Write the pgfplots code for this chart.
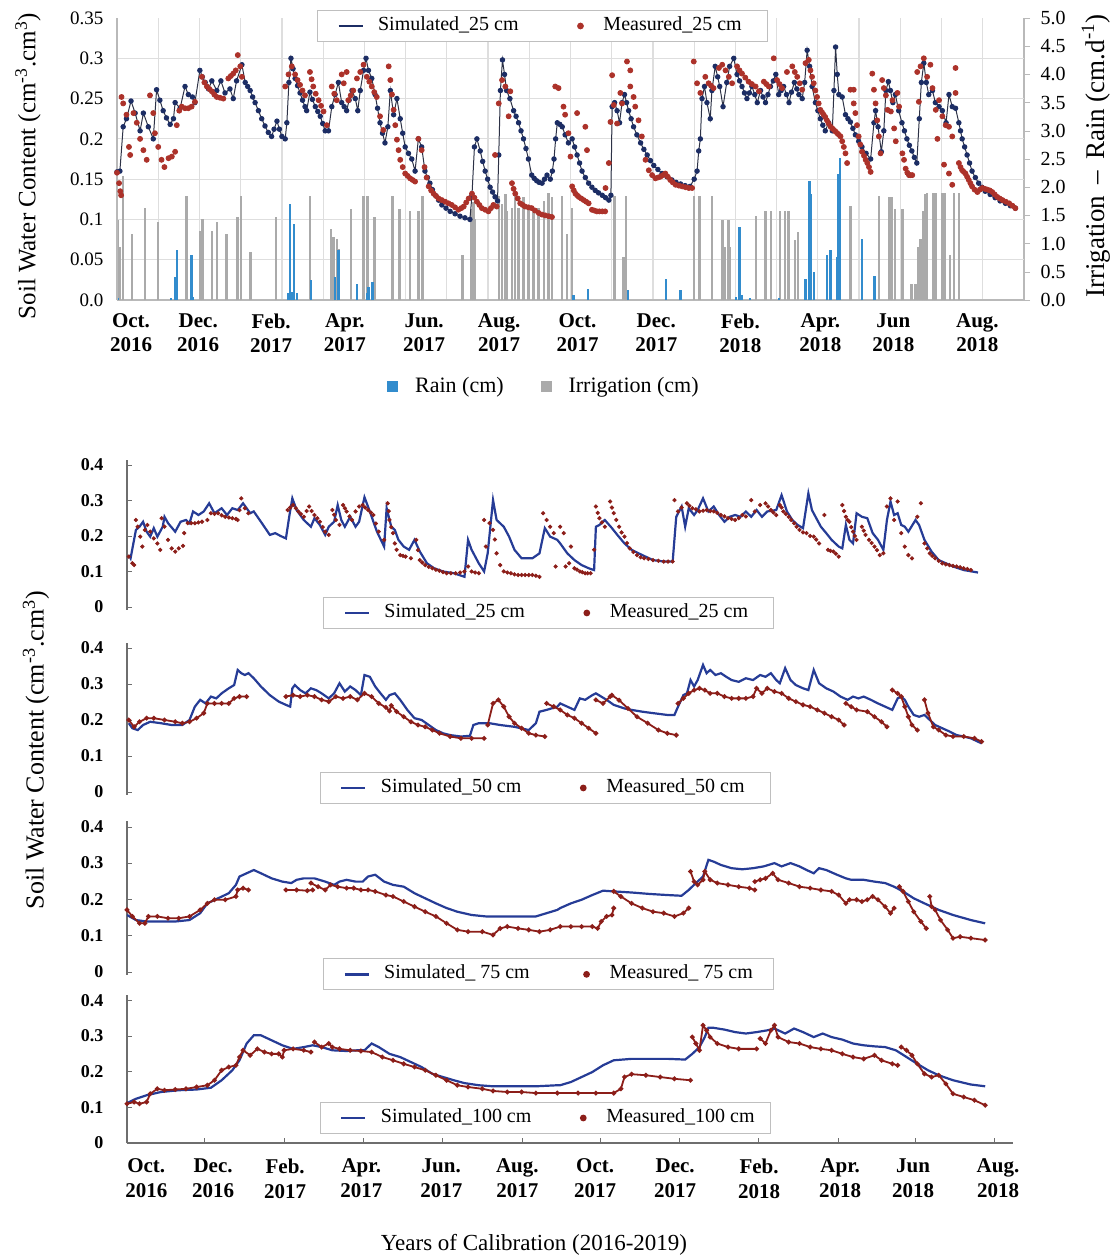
\documentclass[border=0pt]{standalone}
\usepackage{fontspec}
\setmainfont{Liberation Serif}
\usepackage{pgfplots}
\pgfplotsset{compat=1.18}
\definecolor{simnavy}{RGB}{28,45,100}
\definecolor{simline}{RGB}{45,50,70}
\definecolor{measred}{RGB}{172,50,42}
\definecolor{bsim}{RGB}{38,60,150}
\definecolor{bmeas}{RGB}{140,30,25}
\definecolor{rainblue}{RGB}{50,140,205}
\definecolor{irrgray}{RGB}{170,170,170}
\definecolor{gridc}{RGB}{222,222,222}
\definecolor{axc}{RGB}{185,185,185}
\definecolor{baxc}{RGB}{110,110,110}
\pgfplotsset{
 every axis/.append style={scale only axis, /pgf/number format/assume math mode=true},
 mylegend/.style={legend columns=2, legend cell align=left,
   legend style={draw=black!25, fill=white, line width=0.5pt, inner xsep=10pt, inner ysep=3pt,
     font=\fontsize{10}{12}\selectfont, nodes={inner sep=0pt, text height=7pt, text depth=2.5pt},
     /tikz/every odd column/.append style={column sep=7pt},
     /tikz/every even column/.append style={column sep=26.5pt}}},
 simimg/.style={legend image code/.code={\draw[#1,line width=1.4pt] (0pt,0pt)--(12pt,0pt);}},
 measimg/.style={legend image code/.code={\path[draw=none] (-1.7pt,0pt)--(4.5pt,0pt); \fill[#1,draw=none] (0pt,0pt) circle (1.7pt);}},
 bpanel/.style={width=443pt, xmin=355, xmax=2836, axis y line*=left,
   axis line style={baxc, line width=0.6pt},
   ytick={0,0.1,0.2,0.3,0.4}, yticklabels={0,0.1,0.2,0.3,0.4},
   tick align=inside, major tick length=2.5pt, tick style={baxc},
   y tick label style={font=\bfseries\fontsize{9}{10}\selectfont, xshift=-8.3pt},
   unbounded coords=jump, mylegend},
 bsimstyle/.style={bsim, line width=1.1pt, simimg=bsim},
 bmeasstyle/.style={bmeas, line width=0.9pt, mark=*, mark size=0.7pt, measimg=bmeas},
}
\begin{document}
\begin{tikzpicture}
\path[use as bounding box] (0pt,0pt) rectangle (560pt,-630pt);

% ---------- TOP: bars + right axis ----------
\begin{axis}[
  at={(58.5pt,-150pt)}, anchor=south west, width=453.5pt, height=141pt,
  xmin=0, xmax=22, ymin=0, ymax=5,
  axis y line*=right, axis x line*=bottom,
  axis line style={axc, line width=0.6pt},
  xtick={0.34,1.97,3.74,5.53,7.45,9.27,11.17,13.08,15.12,17.06,18.83,20.87},
  xticklabels={Oct.\\2016,Dec.\\2016,Feb.\\2017,Apr.\\2017,Jun.\\2017,Aug.\\2017,Oct.\\2017,Dec.\\2017,Feb.\\2018,Apr.\\2018,Jun\\2018,Aug.\\2018},
  x tick label style={align=center, font=\bfseries\fontsize{10.5}{12}\selectfont, yshift=-0.3pt},
  major x tick style={draw=none},
  minor xtick={1,2,...,21}, xminorgrids=true, minor grid style={gridc, line width=0.6pt}, minor x tick style={draw=none},
  ytick={0,0.5,1,1.5,2,2.5,3,3.5,4,4.5,5},
  yticklabels={0.0,0.5,1.0,1.5,2.0,2.5,3.0,3.5,4.0,4.5,5.0},
  y tick label style={font=\fontsize{10}{11}\selectfont, xshift=1.8pt},
  tick align=outside, major tick length=3pt, y tick style={axc},
  extra y ticks={0.714,1.429,2.143,2.857,3.571,4.286},
  extra y tick labels={},
  extra y tick style={grid=major, major grid style={gridc, line width=0.6pt}, major tick length=0pt},
  legend columns=2, legend cell align=left,
  legend style={at={(0.4697,-0.305)}, anchor=center, draw=none, fill=none,
    font=\fontsize{11}{12}\selectfont, nodes={inner sep=0pt},
    /tikz/every odd column/.append style={column sep=8.5pt},
    /tikz/every even column/.append style={column sep=18.5pt}},
]
\addlegendimage{legend image code/.code={\fill[rainblue] (0pt,-2.5pt) rectangle (5pt,2.5pt);}}
\addlegendentry{Rain (cm)}
\addlegendimage{legend image code/.code={\fill[irrgray] (0pt,-2.5pt) rectangle (5pt,2.5pt);}}
\addlegendentry{Irrigation (cm)}
\addplot[ycomb, irrgray, line width=1.2pt, forget plot] coordinates {
(0.01,1.41) (0.07,0.94) (0.14,2.2) (0.36,1.17) (0.68,1.64) (0.99,1.38) (1.69,1.85) (2.01,1.23) (2.07,1.44) (2.30,1.23) (2.42,1.38) (2.66,1.17) (2.92,1.47) (3.01,1.85) (3.24,0.85) (3.86,1.47) (4.68,1.85) (5.19,1.26) (5.25,1.11) (5.33,1.08) (5.37,0.91) (5.68,1.61) (5.98,1.85) (6.08,1.85) (6.25,1.47) (6.68,1.85) (6.85,1.61) (7.11,1.58) (7.31,1.58) (7.41,1.85) (8.38,0.79) (8.59,1.61) (8.65,1.73) (8.69,1.44) (9.26,1.85) (9.34,1.70) (9.42,1.88) (9.46,1.58) (9.58,1.64) (9.66,1.85) (9.74,1.64) (9.86,1.82) (9.98,1.61) (10.10,1.64) (10.22,1.64) (10.35,1.76) (10.47,1.90) (10.55,1.82) (10.79,1.85) (10.91,1.17) (11.03,1.64) (12.07,1.85) (12.29,0.76) (12.35,1.85) (14.0,1.85) (14.13,1.85) (14.43,1.85) (14.69,1.41) (14.74,0.94) (14.83,1.41) (14.86,0.94) (15.5,1.49) (15.73,1.58) (15.87,1.58) (16.08,1.58) (16.21,1.58) (16.29,1.58) (16.45,1.06) (16.52,1.2) (17.79,1.67) (18.48,1.85) (18.74,1.82) (18.80,1.82) (18.87,1.61) (19.05,1.61) (19.27,0.29) (19.37,0.29) (19.43,0.94) (19.49,1.08) (19.55,1.58) (19.60,1.88) (19.65,1.90) (19.80,1.90) (19.85,1.90) (20.02,1.90) (20.08,1.90) (20.20,0.79) (20.30,1.90) (20.42,1.90)
};
\addplot[ycomb, rainblue, line width=1.2pt, forget plot] coordinates {
(0.03,0.03) (1.31,0.03) (1.41,0.41) (1.45,0.88) (1.81,0.79) (1.85,0.06) (4.16,0.12) (4.20,1.70) (4.24,0.15) (4.30,1.35) (4.36,0.12) (4.71,0.35) (5.29,0.41) (5.37,0.88) (5.82,0.29) (6.06,0.12) (6.10,0.23) (6.20,0.32) (11.07,0.09) (11.42,0.20) (12.39,0.18) (13.32,0.38) (13.67,0.18) (15.02,0.06) (15.10,1.29) (15.15,0.09) (15.36,0.03) (16.05,0.03) (16.70,0.38) (16.80,2.11) (16.84,1.88) (16.90,0.50) (17.22,0.79) (17.31,0.88) (17.47,0.76) (17.49,2.23) (17.53,2.52) (18.07,1.08) (18.37,0.42)
};
\end{axis}

% ---------- TOP: soil water (left axis) ----------
\begin{axis}[
  at={(58.5pt,-150pt)}, anchor=south west, width=453.5pt, height=141pt,
  xmin=0, xmax=22, ymin=0, ymax=0.35,
  axis x line=none, axis y line*=left,
  axis line style={axc, line width=0.6pt},
  ytick={0,0.05,0.1,0.15,0.2,0.25,0.3,0.35},
  yticklabels={0.0,0.05,0.1,0.15,0.2,0.25,0.3,0.35},
  major tick length=0pt,
  y tick label style={font=\fontsize{9.5}{10}\selectfont, xshift=-3.3pt},
  mylegend, legend style={at={(0.469,0.9716)}, anchor=center},
]
\addplot[simline, line width=0.5pt, mark=*, mark size=1.1pt, mark options={fill=simnavy, draw=simnavy}, simimg=simnavy] coordinates {
(0,0.159) (0.07,0.160) (0.15,0.215) (0.23,0.225) (0.34,0.247) (0.44,0.232) (0.56,0.210) (0.64,0.232) (0.76,0.215) (0.88,0.200) (0.96,0.261) (1.04,0.248) (1.12,0.235) (1.20,0.226) (1.29,0.218) (1.37,0.225) (1.41,0.245) (1.53,0.238) (1.65,0.265) (1.73,0.255) (1.83,0.252) (1.89,0.245) (2.01,0.285) (2.07,0.277) (2.14,0.270) (2.22,0.262) (2.30,0.272) (2.42,0.260) (2.52,0.272) (2.62,0.257) (2.74,0.262) (2.82,0.250) (2.90,0.272) (3.03,0.292) (3.11,0.270) (3.17,0.265) (3.23,0.260) (3.29,0.252) (3.35,0.245) (3.43,0.235) (3.51,0.225) (3.59,0.216) (3.67,0.208) (3.75,0.203) (3.81,0.212) (3.88,0.222) (3.94,0.212) (4.00,0.203) (4.08,0.200) (4.12,0.220) (4.17,0.270) (4.22,0.300) (4.27,0.287) (4.32,0.275) (4.38,0.266) (4.44,0.257) (4.50,0.248) (4.56,0.240) (4.60,0.235) (4.68,0.258) (4.74,0.249) (4.81,0.240) (4.87,0.234) (4.93,0.228) (4.99,0.219) (5.05,0.210) (5.13,0.210) (5.21,0.240) (5.29,0.255) (5.37,0.270) (5.45,0.245) (5.51,0.240) (5.57,0.235) (5.63,0.248) (5.70,0.260) (5.78,0.250) (5.84,0.235) (5.90,0.260) (5.98,0.285) (6.04,0.300) (6.10,0.285) (6.18,0.275) (6.26,0.255) (6.32,0.238) (6.38,0.220) (6.44,0.207) (6.50,0.195) (6.57,0.215) (6.63,0.260) (6.71,0.230) (6.79,0.250) (6.87,0.225) (6.93,0.207) (6.99,0.190) (7.07,0.182) (7.15,0.175) (7.23,0.160) (7.31,0.200) (7.39,0.190) (7.47,0.160) (7.53,0.152) (7.59,0.145) (7.65,0.137) (7.72,0.130) (7.80,0.124) (7.88,0.118) (7.98,0.114) (8.08,0.110) (8.20,0.107) (8.32,0.104) (8.44,0.102) (8.56,0.100) (8.61,0.130) (8.67,0.190) (8.73,0.200) (8.81,0.185) (8.87,0.172) (8.93,0.160) (8.99,0.150) (9.05,0.140) (9.11,0.134) (9.17,0.128) (9.23,0.123) (9.26,0.180) (9.30,0.260) (9.35,0.298) (9.40,0.280) (9.45,0.260) (9.53,0.250) (9.62,0.235) (9.68,0.228) (9.74,0.220) (9.80,0.210) (9.86,0.200) (9.92,0.188) (9.98,0.175) (10.06,0.155) (10.12,0.151) (10.18,0.148) (10.24,0.146) (10.31,0.145) (10.37,0.150) (10.43,0.155) (10.51,0.150) (10.56,0.160) (10.60,0.175) (10.64,0.200) (10.68,0.220) (10.74,0.218) (10.80,0.215) (10.87,0.205) (10.95,0.195) (11.04,0.200) (11.10,0.190) (11.16,0.180) (11.22,0.170) (11.28,0.160) (11.36,0.152) (11.44,0.145) (11.52,0.140) (11.60,0.136) (11.68,0.133) (11.77,0.130) (11.85,0.127) (11.93,0.124) (11.98,0.130) (12.01,0.240) (12.07,0.245) (12.13,0.235) (12.19,0.220) (12.25,0.245) (12.31,0.255) (12.36,0.245) (12.41,0.235) (12.47,0.225) (12.53,0.215) (12.61,0.205) (12.70,0.195) (12.78,0.187) (12.86,0.180) (12.94,0.173) (13.02,0.167) (13.12,0.162) (13.22,0.157) (13.34,0.153) (13.46,0.149) (13.56,0.146) (13.67,0.144) (13.78,0.142) (13.90,0.141) (14.00,0.150) (14.07,0.160) (14.11,0.185) (14.15,0.200) (14.19,0.250) (14.25,0.265) (14.31,0.245) (14.39,0.225) (14.43,0.260) (14.51,0.290) (14.57,0.277) (14.62,0.265) (14.70,0.240) (14.79,0.270) (14.86,0.290) (14.96,0.300) (15.04,0.280) (15.10,0.272) (15.16,0.265) (15.22,0.257) (15.28,0.250) (15.34,0.257) (15.40,0.265) (15.47,0.255) (15.53,0.245) (15.61,0.260) (15.67,0.252) (15.73,0.245) (15.79,0.255) (15.85,0.265) (15.92,0.272) (15.98,0.280) (16.05,0.255) (16.11,0.260) (16.17,0.265) (16.24,0.255) (16.30,0.245) (16.36,0.258) (16.43,0.270) (16.49,0.262) (16.54,0.255) (16.62,0.250) (16.68,0.270) (16.74,0.310) (16.80,0.290) (16.86,0.265) (16.94,0.245) (17.00,0.235) (17.06,0.225) (17.12,0.217) (17.18,0.210) (17.26,0.220) (17.35,0.210) (17.39,0.260) (17.43,0.314) (17.47,0.280) (17.51,0.255) (17.59,0.252) (17.67,0.230) (17.73,0.225) (17.79,0.221) (17.85,0.213) (17.91,0.205) (17.99,0.197) (18.07,0.190) (18.17,0.182) (18.28,0.175) (18.36,0.220) (18.40,0.235) (18.46,0.215) (18.54,0.184) (18.60,0.210) (18.65,0.260) (18.71,0.271) (18.76,0.260) (18.82,0.245) (18.88,0.255) (18.96,0.235) (19.04,0.220) (19.10,0.210) (19.16,0.200) (19.22,0.192) (19.28,0.185) (19.34,0.177) (19.40,0.170) (19.46,0.225) (19.51,0.270) (19.57,0.294) (19.63,0.270) (19.69,0.255) (19.78,0.260) (19.85,0.245) (19.94,0.240) (20.02,0.235) (20.11,0.220) (20.18,0.255) (20.26,0.240) (20.34,0.238) (20.42,0.220) (20.46,0.210) (20.50,0.200) (20.56,0.190) (20.62,0.180) (20.68,0.170) (20.74,0.160) (20.82,0.152) (20.90,0.145) (20.98,0.140) (21.06,0.135) (21.18,0.131) (21.30,0.127) (21.42,0.123) (21.55,0.120) (21.67,0.117) (21.79,0.114)
};
\addlegendentry{\makebox[73pt][l]{Simulated\_25 cm}}
\addplot[only marks, mark=*, mark size=1.25pt, mark options={fill=measred, draw=measred}, measimg=measred] coordinates {
(0,0.158) (0.05,0.145) (0.08,0.135) (0.10,0.130) (0.11,0.252) (0.15,0.244) (0.23,0.230) (0.29,0.190) (0.32,0.180) (0.40,0.232) (0.48,0.220) (0.56,0.200) (0.64,0.186) (0.72,0.174) (0.80,0.254) (0.88,0.232) (0.92,0.207) (1.00,0.190) (1.08,0.174) (1.15,0.165) (1.25,0.176) (1.33,0.178) (1.41,0.184) (1.45,0.217) (1.51,0.235) (1.57,0.240) (1.65,0.238) (1.73,0.238) (1.81,0.240) (1.89,0.246) (2.06,0.277) (2.12,0.270) (2.18,0.265) (2.24,0.262) (2.30,0.259) (2.36,0.255) (2.42,0.252) (2.50,0.251) (2.58,0.250) (2.70,0.275) (2.76,0.278) (2.82,0.281) (2.88,0.285) (2.93,0.304) (2.99,0.290) (3.03,0.277)
(4.08,0.265) (4.16,0.280) (4.24,0.290) (4.32,0.280) (4.38,0.273) (4.44,0.267) (4.50,0.260) (4.56,0.254) (4.68,0.283) (4.72,0.274) (4.76,0.265) (4.82,0.256) (4.89,0.248) (4.95,0.241) (5.01,0.234) (5.09,0.217) (5.21,0.265) (5.27,0.256) (5.33,0.248) (5.45,0.280) (5.50,0.269) (5.57,0.283) (5.61,0.248) (5.67,0.254) (5.73,0.260) (5.82,0.275) (5.90,0.283) (5.98,0.292) (6.06,0.277) (6.12,0.271) (6.18,0.265) (6.24,0.258) (6.30,0.252) (6.38,0.228) (6.46,0.211) (6.59,0.290) (6.63,0.273) (6.67,0.255) (6.71,0.236) (6.75,0.217) (6.79,0.199) (6.83,0.186) (6.87,0.174) (6.93,0.165) (6.99,0.157) (7.05,0.154) (7.11,0.151) (7.17,0.149) (7.23,0.147) (7.31,0.200) (7.39,0.186) (7.46,0.165) (7.51,0.152) (7.56,0.141) (7.62,0.136) (7.68,0.132) (7.74,0.129) (7.80,0.126) (7.88,0.124) (7.96,0.122) (8.04,0.120) (8.12,0.118) (8.20,0.115) (8.28,0.112) (8.35,0.114) (8.41,0.116) (8.47,0.121) (8.53,0.126) (8.61,0.132) (8.67,0.127) (8.73,0.122) (8.79,0.118) (8.85,0.114) (8.93,0.112) (9.01,0.110) (9.07,0.114) (9.13,0.118) (9.21,0.116) (9.17,0.180) (9.26,0.244) (9.34,0.273) (9.42,0.265) (9.50,0.228) (9.54,0.259) (9.58,0.145) (9.62,0.138) (9.66,0.132) (9.72,0.126) (9.78,0.120) (9.84,0.118) (9.90,0.116) (9.98,0.115) (10.06,0.114) (10.14,0.111) (10.23,0.108) (10.31,0.106) (10.39,0.105) (10.47,0.104) (10.55,0.103) (10.63,0.265) (10.71,0.263) (10.83,0.240) (10.95,0.207) (10.87,0.230) (11.00,0.178) (11.04,0.141) (11.08,0.136) (11.12,0.132) (11.16,0.130) (11.20,0.128) (11.26,0.126) (11.32,0.124) (11.38,0.122) (11.44,0.120) (11.52,0.112) (11.58,0.111) (11.64,0.110) (11.70,0.110) (11.77,0.110) (11.84,0.110) (11.16,0.232) (11.36,0.215) (11.40,0.186) (11.85,0.139) (11.93,0.170)
(11.97,0.221) (12.05,0.242) (12.13,0.219) (12.01,0.279) (12.21,0.257) (12.25,0.244) (12.37,0.296) (12.45,0.285) (12.45,0.265) (12.53,0.252) (12.57,0.240) (12.65,0.223) (12.73,0.203) (12.82,0.174) (12.90,0.161) (12.98,0.155) (13.06,0.151) (13.12,0.152) (13.18,0.153) (13.24,0.155) (13.30,0.157) (13.36,0.153) (13.42,0.149) (13.48,0.146) (13.55,0.143) (13.63,0.142) (13.71,0.141) (13.79,0.140) (13.87,0.139) (13.95,0.139) (13.99,0.296) (14.07,0.269) (14.15,0.257) (14.27,0.277) (14.35,0.269) (14.41,0.266) (14.47,0.263) (14.60,0.288) (14.68,0.292) (14.76,0.285) (14.84,0.277) (14.92,0.269) (15.04,0.290) (15.10,0.285) (15.16,0.281) (15.24,0.276) (15.32,0.271) (15.40,0.268) (15.49,0.265) (15.57,0.259) (15.69,0.271) (15.75,0.268) (15.81,0.265) (15.93,0.300) (16.01,0.273) (16.07,0.268) (16.13,0.263) (16.25,0.283) (16.38,0.290) (16.44,0.283) (16.50,0.277) (16.56,0.269) (16.62,0.261) (16.70,0.294) (16.78,0.298) (16.82,0.285) (16.86,0.277) (16.90,0.269) (16.94,0.260) (16.98,0.252) (17.02,0.244) (17.06,0.236) (17.10,0.233) (17.14,0.230) (17.18,0.227) (17.22,0.223) (17.26,0.219) (17.31,0.215) (17.35,0.213) (17.39,0.211) (17.43,0.209) (17.47,0.207) (17.51,0.205) (17.55,0.203) (17.59,0.197) (17.63,0.190) (17.67,0.182) (17.71,0.170) (17.79,0.261) (17.87,0.261) (17.87,0.244) (17.91,0.232) (17.95,0.217) (17.99,0.203) (18.03,0.193) (18.07,0.184) (18.12,0.179) (18.16,0.174) (18.20,0.170) (18.24,0.165) (18.28,0.159) (18.32,0.281) (18.36,0.261) (18.40,0.244) (18.44,0.223) (18.48,0.203) (18.52,0.182) (18.56,0.273) (18.60,0.263) (18.65,0.254) (18.69,0.236) (18.77,0.234) (18.81,0.248) (18.85,0.213) (18.89,0.197) (18.93,0.257) (18.97,0.240) (19.05,0.182) (19.09,0.174) (19.13,0.163) (19.17,0.158) (19.21,0.155) (19.25,0.155) (19.29,0.155) (19.41,0.283) (19.45,0.246) (19.49,0.290) (19.57,0.300) (19.65,0.277) (19.73,0.292) (19.78,0.263) (19.86,0.236) (19.90,0.200) (19.94,0.248) (20.02,0.228) (20.06,0.168) (20.10,0.217) (20.18,0.215) (20.18,0.157) (20.26,0.203) (20.26,0.143) (20.34,0.288) (20.34,0.257) (20.42,0.170) (20.46,0.165) (20.50,0.161) (20.54,0.159) (20.58,0.157) (20.62,0.153) (20.66,0.149) (20.70,0.145) (20.74,0.141) (20.80,0.137) (20.87,0.134) (20.93,0.137) (20.99,0.139) (21.05,0.138) (21.11,0.137) (21.17,0.136) (21.23,0.134) (21.29,0.131) (21.35,0.128) (21.41,0.126) (21.48,0.124) (21.56,0.122) (21.64,0.120) (21.72,0.117) (21.79,0.114)
};
\addlegendentry{\makebox[72pt][l]{Measured\_25 cm}}
\end{axis}

% ---------- PANEL 1 (25 cm) ----------
\begin{axis}[bpanel, at={(63.5pt,-304.9pt)}, anchor=south west, height=75.1pt,
  ymin=-0.008, ymax=0.415, axis x line=none,
  legend style={at={(0.476,-0.021)}, anchor=center}]
\addplot[bsimstyle] coordinates {
(360,0.146) (365,0.137) (380,0.217) (390,0.226) (400,0.24) (410,0.212) (420,0.198) (430,0.222) (440,0.198) (455,0.226) (460,0.254) (470,0.236) (490,0.212) (505,0.24) (520,0.245) (530,0.236) (540,0.269) (555,0.259) (570,0.269) (585,0.292) (600,0.264) (620,0.278) (635,0.259) (650,0.278) (665,0.273) (680,0.292) (700,0.264) (710,0.269) (730,0.24) (755,0.203) (770,0.208) (785,0.2) (800,0.193) (810,0.259) (818,0.306) (830,0.273) (850,0.245) (870,0.226) (880,0.25) (895,0.231) (910,0.203) (920,0.226) (935,0.24) (945,0.287) (955,0.245) (965,0.226) (980,0.254) (995,0.226) (1005,0.24) (1020,0.309) (1035,0.269) (1045,0.24) (1055,0.212) (1075,0.17) (1082,0.278) (1095,0.226) (1105,0.217) (1115,0.189) (1130,0.17) (1145,0.161) (1160,0.189) (1175,0.156) (1195,0.123) (1215,0.109) (1240,0.1) (1270,0.095) (1300,0.085) (1310,0.189) (1320,0.161) (1340,0.123) (1355,0.1) (1365,0.151) (1380,0.301) (1390,0.245) (1410,0.226) (1425,0.198) (1440,0.161) (1460,0.137) (1490,0.137) (1510,0.151) (1525,0.222) (1540,0.198) (1560,0.189)
(1568,0.179) (1588,0.151) (1608,0.132) (1628,0.118) (1648,0.109) (1663,0.104) (1668,0.226) (1678,0.231) (1693,0.245) (1713,0.222) (1728,0.203) (1748,0.179) (1768,0.161) (1798,0.146) (1828,0.132) (1858,0.128) (1883,0.128) (1893,0.254) (1908,0.283) (1918,0.226) (1928,0.278) (1943,0.259) (1953,0.273) (1968,0.306) (1983,0.269) (1998,0.283) (2013,0.259) (2028,0.24) (2043,0.254) (2058,0.259) (2073,0.254) (2088,0.269) (2103,0.254) (2118,0.273) (2133,0.254) (2148,0.269) (2173,0.273) (2188,0.315) (2203,0.269) (2218,0.245) (2233,0.231) (2248,0.222) (2263,0.32) (2273,0.273) (2283,0.254) (2298,0.226) (2313,0.208) (2328,0.189) (2348,0.17) (2358,0.165) (2368,0.231) (2378,0.189) (2388,0.179) (2398,0.264) (2413,0.254) (2428,0.25) (2443,0.208) (2458,0.189) (2473,0.161) (2483,0.245) (2493,0.297) (2503,0.259) (2513,0.264) (2523,0.231) (2533,0.226) (2543,0.212) (2563,0.245) (2573,0.231) (2588,0.189) (2608,0.156) (2628,0.132) (2648,0.123) (2668,0.114) (2698,0.104) (2738,0.097)
};
\addlegendentry{\makebox[73pt][l]{Simulated\_25 cm}}
\addplot[only marks, bmeas, mark=*, mark size=0.85pt, measimg=bmeas] coordinates {
(360,0.142) (370,0.123) (375,0.118) (380,0.245) (385,0.226) (392,0.198) (398,0.17) (405,0.217) (412,0.231) (420,0.212) (430,0.193) (440,0.179) (448,0.161) (452,0.25) (460,0.226) (470,0.189) (480,0.165) (490,0.156) (500,0.165) (512,0.172) (515,0.208) (525,0.236) (535,0.236) (545,0.236) (555,0.238) (565,0.24) (580,0.245) (590,0.264) (600,0.262) (610,0.264) (620,0.258) (630,0.254) (640,0.252) (650,0.25) (660,0.248) (665,0.245) (670,0.273) (675,0.306) (685,0.278) (695,0.264)
(805,0.273) (812,0.28) (820,0.287) (828,0.278) (835,0.269) (842,0.262) (850,0.254) (858,0.27) (865,0.283) (872,0.27) (880,0.259) (888,0.25) (895,0.24) (903,0.225) (910,0.212) (920,0.203) (930,0.273) (935,0.26) (940,0.245) (950,0.231) (960,0.287) (965,0.278) (970,0.269) (978,0.255) (985,0.245) (995,0.269) (1005,0.283) (1015,0.287) (1022,0.28) (1030,0.273) (1038,0.266) (1045,0.259) (1052,0.235) (1060,0.212) (1075,0.189) (1085,0.292) (1088,0.27) (1090,0.245) (1095,0.225) (1100,0.208) (1105,0.179) (1110,0.161) (1120,0.146) (1128,0.144) (1135,0.142) (1150,0.137) (1165,0.189) (1170,0.16) (1175,0.132) (1182,0.125) (1190,0.118) (1200,0.113) (1210,0.109) (1220,0.105) (1230,0.102) (1240,0.098) (1250,0.095) (1262,0.095) (1275,0.095) (1288,0.097) (1300,0.1) (1310,0.114) (1320,0.1) (1330,0.097) (1340,0.095) (1355,0.245) (1360,0.17) (1370,0.236) (1380,0.217) (1385,0.19) (1390,0.151) (1400,0.118) (1410,0.1) (1420,0.097) (1430,0.095) (1440,0.092) (1450,0.09) (1460,0.09) (1470,0.09) (1480,0.09) (1490,0.09) (1500,0.088) (1510,0.085) (1520,0.264) (1530,0.245) (1540,0.226) (1550,0.208) (1555,0.114)
(1568,0.226) (1578,0.208) (1583,0.114) (1593,0.123) (1598,0.17) (1608,0.109) (1615,0.105) (1623,0.1) (1630,0.098) (1638,0.095) (1645,0.095) (1653,0.095) (1663,0.161) (1668,0.283) (1673,0.265) (1678,0.25) (1685,0.238) (1693,0.226) (1708,0.297) (1713,0.28) (1718,0.264) (1725,0.245) (1733,0.226) (1740,0.21) (1748,0.198) (1755,0.18) (1763,0.165) (1773,0.155) (1783,0.146) (1793,0.14) (1803,0.137) (1815,0.135) (1828,0.132) (1843,0.13) (1858,0.128) (1870,0.128) (1883,0.128) (1888,0.301) (1898,0.269) (1908,0.28) (1923,0.292) (1930,0.285) (1938,0.278) (1948,0.275) (1958,0.269) (1968,0.271) (1978,0.273) (1988,0.27) (1998,0.269) (2008,0.265) (2018,0.259) (2028,0.255) (2038,0.25) (2048,0.248) (2058,0.245) (2068,0.25) (2078,0.259) (2088,0.255) (2103,0.301) (2113,0.269) (2128,0.287) (2143,0.292) (2150,0.283) (2158,0.273) (2165,0.266) (2173,0.259) (2183,0.287) (2188,0.28) (2193,0.269) (2200,0.262) (2208,0.254) (2215,0.245) (2223,0.236) (2230,0.226) (2238,0.217) (2248,0.21) (2258,0.208) (2268,0.2) (2278,0.198) (2285,0.19) (2293,0.179) (2308,0.259) (2318,0.161) (2325,0.158) (2333,0.156) (2340,0.15) (2348,0.142) (2358,0.287) (2363,0.27) (2368,0.254) (2373,0.245) (2378,0.24) (2383,0.225) (2388,0.212) (2393,0.2) (2398,0.189) (2413,0.226) (2418,0.215) (2423,0.203) (2433,0.189) (2440,0.18) (2448,0.17) (2455,0.16) (2463,0.146) (2473,0.151) (2483,0.283) (2493,0.306) (2503,0.245) (2513,0.297) (2523,0.208) (2533,0.17) (2543,0.146) (2553,0.137) (2568,0.254) (2578,0.292) (2588,0.179) (2596,0.165) (2603,0.151) (2610,0.144) (2618,0.137) (2628,0.13) (2638,0.123) (2648,0.12) (2658,0.118) (2668,0.116) (2678,0.114) (2688,0.112) (2698,0.109) (2708,0.107) (2718,0.104)
};
\addlegendentry{\makebox[72pt][l]{Measured\_25 cm}}
\end{axis}

% ---------- PANEL 2 (50 cm) ----------
\begin{axis}[bpanel, at={(63.5pt,-397.4pt)}, anchor=south west, height=76.1pt,
  ymin=-0.008, ymax=0.415, axis x line=none,
  legend style={at={(0.472,0.045)}, anchor=center}]
\addplot[bsimstyle] coordinates {
(360,0.191) (370,0.177) (385,0.172) (400,0.186) (420,0.195) (450,0.191) (480,0.186) (510,0.186) (530,0.2) (545,0.237) (560,0.256) (575,0.246) (590,0.265) (605,0.26) (620,0.274) (640,0.288) (655,0.297) (665,0.339) (675,0.33) (685,0.325) (695,0.33) (710,0.316) (730,0.293) (755,0.269) (780,0.251) (800,0.242) (812,0.237) (818,0.288) (825,0.297) (840,0.283) (855,0.274) (870,0.288) (885,0.283) (900,0.274) (920,0.26) (935,0.274) (950,0.302) (965,0.279) (980,0.293) (995,0.283) (1010,0.269) (1020,0.325) (1035,0.32) (1050,0.293) (1065,0.274) (1080,0.256) (1090,0.269) (1105,0.274) (1120,0.256) (1140,0.228) (1160,0.205) (1180,0.2) (1200,0.186) (1220,0.172) (1240,0.163) (1260,0.158) (1290,0.154) (1315,0.156) (1325,0.186) (1340,0.191) (1370,0.191) (1400,0.186) (1440,0.181) (1480,0.172) (1500,0.191) (1510,0.223) (1530,0.228) (1560,0.237)
(1568,0.246) (1588,0.237) (1608,0.228) (1623,0.26) (1638,0.256) (1658,0.269) (1668,0.274) (1683,0.265) (1698,0.256) (1718,0.242) (1748,0.232) (1768,0.228) (1798,0.223) (1828,0.219) (1868,0.214) (1888,0.214) (1898,0.237) (1913,0.269) (1923,0.274) (1933,0.311) (1943,0.293) (1953,0.311) (1968,0.353) (1978,0.33) (1988,0.339) (2003,0.325) (2018,0.33) (2033,0.32) (2048,0.311) (2068,0.306) (2088,0.316) (2108,0.311) (2128,0.325) (2143,0.32) (2158,0.33) (2173,0.311) (2183,0.302) (2198,0.344) (2213,0.311) (2228,0.297) (2248,0.288) (2263,0.283) (2278,0.339) (2293,0.302) (2313,0.288) (2333,0.279) (2353,0.265) (2373,0.256) (2388,0.265) (2403,0.26) (2418,0.265) (2438,0.256) (2458,0.246) (2478,0.237) (2498,0.228) (2513,0.26) (2523,0.265) (2533,0.256) (2543,0.237) (2558,0.214) (2573,0.209) (2588,0.214) (2603,0.2) (2618,0.186) (2638,0.177) (2658,0.168) (2678,0.158) (2698,0.154) (2718,0.149) (2748,0.135)
};
\addlegendentry{\makebox[73pt][l]{Simulated\_50 cm}}
\addplot[bmeasstyle] coordinates {
(360,0.2) (375,0.181) (390,0.195) (410,0.205) (430,0.205) (460,0.2) (490,0.195) (510,0.191) (530,0.195) (550,0.205) (570,0.219) (580,0.246) (600,0.246) (620,0.246) (640,0.246) (655,0.26) (670,0.265) (690,0.265) (690,nan)
(800,0.265) (820,0.269) (840,0.265) (860,0.269) (880,0.265) (900,0.256) (920,0.251) (940,0.265) (960,0.26) (980,0.265) (1000,0.256) (1020,0.274) (1040,0.265) (1060,0.246) (1080,0.235) (1090,0.225) (1095,0.24) (1110,0.223) (1130,0.209) (1150,0.195) (1170,0.186) (1190,0.181) (1210,0.172) (1230,0.163) (1260,0.154) (1290,0.149) (1320,0.149) (1355,0.149) (1355,nan)
(1365,0.186) (1380,0.246) (1395,0.256) (1410,0.237) (1425,0.209) (1440,0.191) (1460,0.177) (1480,0.163) (1500,0.158) (1525,0.154) (1525,nan)
(1530,0.246) (1550,0.237) (1568,0.228) (1588,0.214) (1608,0.205) (1628,0.191) (1648,0.177) (1668,0.163) (1668,nan)
(1668,0.256) (1688,0.246) (1708,0.265) (1713,0.269) (1733,0.255) (1758,0.232) (1783,0.209) (1813,0.191) (1843,0.172) (1868,0.163) (1893,0.158) (1893,nan)
(1898,0.246) (1913,0.26) (1928,0.274) (1943,0.283) (1958,0.288) (1973,0.283) (1988,0.274) (2008,0.274) (2028,0.265) (2048,0.26) (2068,0.26) (2088,0.26) (2108,0.265) (2118,0.288) (2133,0.274) (2148,0.288) (2168,0.279) (2188,0.274) (2208,0.26) (2228,0.251) (2248,0.242) (2268,0.237) (2288,0.228) (2308,0.219) (2328,0.209) (2348,0.2) (2363,0.186) (2363,nan)
(2368,0.246) (2383,0.237) (2398,0.228) (2428,0.223) (2448,0.209) (2468,0.195) (2483,0.181) (2483,nan)
(2498,0.283) (2513,0.274) (2523,0.265) (2533,0.237) (2543,0.209) (2553,0.186) (2568,0.172) (2568,nan)
(2588,0.256) (2598,0.219) (2613,0.181) (2628,0.172) (2648,0.158) (2668,0.154) (2698,0.154) (2728,0.149) (2748,0.14)
};
\addlegendentry{\makebox[72pt][l]{Measured\_50 cm}}
\end{axis}

% ---------- PANEL 3 (75 cm) ----------
\begin{axis}[bpanel, at={(63.5pt,-487.4pt)}, anchor=south west, height=76.7pt,
  ymin=-0.008, ymax=0.415, axis x line=none,
  legend style={at={(0.4757,0.003)}, anchor=center}]
\addplot[bsimstyle] coordinates {
(355,0.157) (380,0.143) (410,0.139) (450,0.139) (490,0.139) (530,0.143) (560,0.162) (580,0.189) (610,0.203) (640,0.217) (660,0.24) (670,0.263) (690,0.272) (710,0.281) (730,0.272) (760,0.258) (790,0.249) (815,0.245) (830,0.254) (850,0.258) (880,0.258) (910,0.249) (935,0.24) (950,0.249) (970,0.254) (995,0.249) (1015,0.249) (1030,0.263) (1050,0.268) (1075,0.249) (1100,0.24) (1130,0.235) (1160,0.217) (1190,0.203) (1220,0.189) (1250,0.176) (1280,0.166) (1320,0.157) (1360,0.153) (1400,0.153) (1440,0.153) (1500,0.153) (1530,0.162) (1560,0.171)
(1568,0.176) (1598,0.189) (1628,0.199) (1658,0.212) (1688,0.224) (1718,0.222) (1768,0.219) (1818,0.215) (1868,0.212) (1908,0.21) (1928,0.226) (1948,0.245) (1968,0.263) (1983,0.309) (1998,0.304) (2018,0.295) (2048,0.286) (2078,0.283) (2108,0.286) (2138,0.291) (2168,0.3) (2188,0.291) (2213,0.3) (2238,0.291) (2258,0.281) (2278,0.272) (2293,0.286) (2313,0.281) (2343,0.268) (2368,0.258) (2383,0.254) (2418,0.254) (2448,0.249) (2478,0.245) (2503,0.235) (2528,0.222) (2558,0.203) (2588,0.189) (2628,0.171) (2668,0.157) (2718,0.143) (2758,0.134)
};
\addlegendentry{\makebox[73pt][l]{Simulated\_ 75 cm}}
\addplot[bmeasstyle] coordinates {
(355,0.171) (370,0.153) (390,0.134) (405,0.134) (415,0.153) (440,0.153) (470,0.148) (500,0.148) (530,0.153) (560,0.171) (580,0.189) (600,0.199) (630,0.199) (660,0.208) (665,0.226) (680,0.231) (695,0.226) (695,nan)
(800,0.226) (830,0.226) (860,0.224) (875,0.226) (875,nan)
(870,0.245) (890,0.235) (910,0.226) (925,0.24) (945,0.235) (970,0.231) (990,0.231) (1010,0.226) (1030,0.226) (1050,0.222) (1080,0.212) (1100,0.208) (1130,0.194) (1160,0.18) (1190,0.166) (1220,0.153) (1250,0.134) (1280,0.116) (1310,0.111) (1350,0.111) (1380,0.102) (1400,0.12) (1420,0.125) (1450,0.12) (1480,0.116) (1510,0.111) (1540,0.116) (1568,0.125) (1598,0.125) (1628,0.125) (1658,0.125) (1673,0.12) (1683,0.139) (1698,0.153) (1713,0.157) (1718,0.176) (1718,nan)
(1718,0.222) (1738,0.208) (1768,0.189) (1798,0.176) (1828,0.166) (1858,0.162) (1888,0.153) (1913,0.162) (1928,0.176) (1928,nan)
(1933,0.277) (1943,0.249) (1953,0.24) (1968,0.254) (1973,0.277) (1988,0.254) (2008,0.245) (2038,0.24) (2068,0.235) (2098,0.231) (2113,0.226) (2113,nan)
(2113,0.249) (2128,0.254) (2143,0.258) (2163,0.272) (2178,0.254) (2208,0.245) (2238,0.235) (2268,0.231) (2298,0.226) (2328,0.222) (2348,0.212) (2368,0.189) (2378,0.199) (2398,0.199) (2413,0.194) (2428,0.199) (2443,0.208) (2458,0.199) (2478,0.18) (2493,0.162) (2503,0.176) (2503,nan)
(2518,0.235) (2528,0.222) (2543,0.194) (2558,0.166) (2578,0.139) (2593,0.12) (2593,nan)
(2603,0.208) (2608,0.18) (2618,0.171) (2633,0.143) (2653,0.116) (2668,0.093) (2688,0.097) (2718,0.093) (2758,0.088)
};
\addlegendentry{\makebox[72pt][l]{Measured\_ 75 cm}}
\end{axis}

% ---------- PANEL 4 (100 cm) ----------
\begin{axis}[bpanel, at={(63.5pt,-571.5pt)}, anchor=south west, height=74pt,
  ymin=0, ymax=0.415, axis x line*=bottom,
  xtick={355,572,795,1017,1238,1462,1681,1900,2123,2346,2563,2783}, xticklabels={},
  extra x ticks={409,596,798,1011,1235,1448,1666,1890,2125,2352,2556,2794},
  extra x tick labels={Oct.\\2016,Dec.\\2016,Feb.\\2017,Apr.\\2017,Jun.\\2017,Aug.\\2017,Oct.\\2017,Dec.\\2017,Feb.\\2018,Apr.\\2018,Jun\\2018,Aug.\\2018},
  extra x tick style={major tick length=0pt},
  x tick label style={align=center, font=\bfseries\fontsize{10.5}{12.5}\selectfont, yshift=-4.3pt},
  legend style={at={(0.472,0.169)}, anchor=center}]
\addplot[bsimstyle] coordinates {
(355,0.112) (380,0.124) (410,0.134) (450,0.143) (500,0.148) (550,0.15) (590,0.155) (620,0.176) (650,0.204) (670,0.232) (690,0.279) (710,0.302) (730,0.302) (760,0.288) (790,0.274) (820,0.264) (850,0.269) (875,0.274) (900,0.269) (930,0.26) (970,0.258) (1000,0.26) (1020,0.26) (1040,0.279) (1060,0.269) (1090,0.25) (1120,0.241) (1150,0.227) (1180,0.213) (1210,0.194) (1240,0.185) (1270,0.176) (1300,0.168) (1340,0.162) (1380,0.159) (1440,0.159) (1500,0.159) (1560,0.162)
(1568,0.162) (1598,0.171) (1628,0.185) (1658,0.199) (1688,0.218) (1718,0.232) (1768,0.236) (1818,0.236) (1868,0.236) (1918,0.234) (1938,0.25) (1958,0.269) (1973,0.297) (1983,0.323) (1998,0.323) (2028,0.318) (2058,0.311) (2088,0.307) (2118,0.311) (2148,0.316) (2168,0.321) (2198,0.307) (2223,0.321) (2248,0.311) (2278,0.297) (2303,0.307) (2328,0.297) (2358,0.29) (2388,0.279) (2418,0.274) (2448,0.271) (2478,0.269) (2508,0.26) (2538,0.241) (2568,0.222) (2598,0.204) (2628,0.19) (2668,0.176) (2718,0.164) (2758,0.159)
};
\addlegendentry{\makebox[73pt][l]{Simulated\_100 cm}}
\addplot[bmeasstyle] coordinates {
(355,0.11) (375,0.115) (390,0.11) (410,0.115) (420,0.138) (440,0.152) (460,0.148) (490,0.15) (520,0.152) (550,0.157) (580,0.162) (600,0.176) (620,0.204) (640,0.213) (660,0.218) (670,0.241) (680,0.26) (700,0.246) (720,0.264) (740,0.255) (760,0.25) (780,0.25) (790,0.241) (795,0.26) (820,0.264) (850,0.26) (870,0.255) (870,nan)
(880,0.283) (900,0.269) (920,0.279) (930,0.269) (950,0.264) (980,0.26) (1010,0.258) (1040,0.255) (1070,0.241) (1100,0.232) (1130,0.222) (1160,0.213) (1190,0.204) (1220,0.19) (1250,0.176) (1280,0.162) (1310,0.157) (1350,0.152) (1380,0.146) (1420,0.143) (1460,0.143) (1500,0.14) (1560,0.14) (1618,0.14) (1668,0.14) (1718,0.14) (1738,0.152) (1748,0.185) (1768,0.193) (1808,0.19) (1848,0.185) (1888,0.18) (1933,0.176) (1933,nan)
(1938,0.297) (1948,0.279) (1958,0.26) (1968,0.33) (1978,0.316) (1988,0.297) (2008,0.279) (2038,0.269) (2068,0.264) (2118,0.264) (2118,nan)
(2128,0.293) (2143,0.279) (2158,0.316) (2168,0.33) (2178,0.297) (2208,0.283) (2238,0.279) (2268,0.269) (2298,0.264) (2328,0.26) (2358,0.25) (2388,0.241) (2418,0.236) (2448,0.246) (2468,0.232) (2498,0.222) (2513,0.218) (2513,nan)
(2523,0.269) (2538,0.26) (2553,0.246) (2568,0.222) (2588,0.194) (2608,0.185) (2628,0.19) (2648,0.166) (2668,0.138) (2698,0.129) (2728,0.12) (2758,0.106)
};
\addlegendentry{\makebox[72pt][l]{Measured\_100 cm}}
\end{axis}

% ---------- axis titles ----------
\node[rotate=90, font=\fontsize{12.5}{14}\selectfont] at (14pt,-83pt) {Soil Water Content (cm\textsuperscript{-3}.cm\textsuperscript{3})};
\node[rotate=90, font=\fontsize{13}{15}\selectfont] at (18pt,-375pt) {Soil Water Content (cm\textsuperscript{-3}.cm\textsuperscript{3})};
\node[rotate=90, font=\fontsize{13.5}{15}\selectfont] at (548pt,-78pt) {Irrigation \,–\, Rain (cm.d\textsuperscript{-1})};
\node[font=\fontsize{11.5}{13}\selectfont] at (267pt,-622.5pt) {Years of Calibration (2016-2019)};
\end{tikzpicture}
\end{document}
